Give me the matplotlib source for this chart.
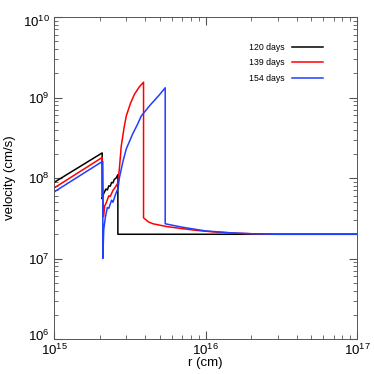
import numpy as np
import matplotlib.pyplot as plt
import matplotlib.transforms as mtransforms

# radius (cm) and velocity (cm/s)
r_120 = [1e15, 2.08e15, 2.08e15, 2.12e15, 2.2e15, 2.25e15, 2.3e15, 2.35e15, 2.4e15,
         2.45e15, 2.5e15, 2.57e15, 2.64e15, 2.64e15, 1e17]
v_120 = [8.8e7, 2.05e8, 5.5e7, 6.3e7, 7.3e7, 7.1e7, 8.0e7, 7.9e7, 8.8e7,
         8.7e7, 9.6e7, 1.0e8, 1.1e8, 2e7, 2e7]

r_139 = [1e15, 2.08e15, 2.08e15, 2.12e15, 2.16e15, 2.2e15, 2.3e15, 2.35e15, 2.45e15,
         2.55e15, 2.64e15, 2.7e15, 2.78e15, 2.9e15, 3.0e15, 3.2e15, 3.4e15, 3.65e15,
         3.9e15, 3.9e15, 4.2e15, 4.5e15, 5.5e15, 7e15, 9e15, 1.2e16, 1.6e16, 2.2e16,
         3e16, 1e17]
v_139 = [7.5e7, 1.8e8, 1.5e8, 3.3e7, 4.5e7, 4.8e7, 6.0e7, 5.9e7, 7.0e7,
         7.8e7, 8.7e7, 1.3e8, 2.5e8, 4.2e8, 5.9e8, 8.5e8, 1.1e9, 1.35e9,
         1.55e9, 3.2e7, 2.85e7, 2.7e7, 2.5e7, 2.35e7, 2.22e7, 2.12e7, 2.06e7, 2.02e7,
         2.0e7, 2e7]

r_154 = [1e15, 2.08e15, 2.1e15, 2.1e15, 2.13e15, 2.18e15, 2.25e15, 2.3e15, 2.4e15,
         2.45e15, 2.55e15, 2.65e15, 2.7e15, 2.85e15, 3.0e15, 3.3e15, 3.55e15, 3.77e15,
         4.3e15, 4.9e15, 5.42e15, 5.42e15, 7e15, 1e16, 1.5e16, 2e16, 3e16, 1e17]
v_154 = [6.7e7, 1.6e8, 1.6e8, 1.0e7, 2.3e7, 3.2e7, 4.3e7, 4.2e7, 5.3e7,
         5.0e7, 6.3e7, 7.5e7, 1.0e8, 1.6e8, 2.3e8, 3.5e8, 4.6e8, 5.9e8,
         8.0e8, 1.05e9, 1.32e9, 2.7e7, 2.45e7, 2.2e7, 2.08e7, 2.03e7, 2.0e7, 2e7]

labels = ['120 days', '139 days', '154 days']
colors = ['black', 'red', '#1f3fff']
yticks = [1e6, 1e7, 1e8, 1e9, 1e10]
xticks = [1e15, 1e16, 1e17]

plt.rcParams['font.family'] = ['Liberation Sans', 'DejaVu Sans']
plt.rcParams['mathtext.fontset'] = 'custom'
plt.rcParams['mathtext.rm'] = 'Liberation Sans'

fig = plt.figure(figsize=(3.74, 3.74), dpi=100)
ax = fig.add_axes([54 / 374, 35 / 374, 303 / 374, 322 / 374])

for r, v, lab, c in zip([r_120, r_139, r_154], [v_120, v_139, v_154], labels, colors):
    ax.plot(r, v, color=c, lw=1.1, label=lab)

ax.set_xscale('log')
ax.set_yscale('log')
ax.set_xlim(1e15, 1e17)
ax.set_ylim(1e6, 1e10)
ax.set_xticks(xticks)
ax.set_yticks(yticks)
ax.set_xlabel('r (cm)', fontsize=9.5, labelpad=-1)
ax.set_ylabel('velocity (cm/s)', fontsize=9.5, labelpad=5)
ax.tick_params(which='both', direction='in', top=True, right=True, labelsize=9.5,
               colors='#555555', labelcolor='black')
ax.tick_params(which='major', length=6, pad=3)
ax.tick_params(which='minor', length=3)
for s in ax.spines.values():
    s.set_linewidth(0.7)
    s.set_color('#555555')

# end labels on the y axis sit a little inside, as in the reference
ylabs = ax.get_yticklabels()
ylabs[0].set_transform(ylabs[0].get_transform() +
                       mtransforms.ScaledTranslation(0, 4 / 100, fig.dpi_scale_trans))
ylabs[-1].set_transform(ylabs[-1].get_transform() +
                        mtransforms.ScaledTranslation(0, -4 / 100, fig.dpi_scale_trans))

leg = ax.legend(loc='upper right', bbox_to_anchor=(0.915, 0.945), frameon=False,
                fontsize=6.3, markerfirst=False, handlelength=3.6, handletextpad=0.8,
                labelspacing=0.75)

fig.savefig('out.png', dpi=100)
